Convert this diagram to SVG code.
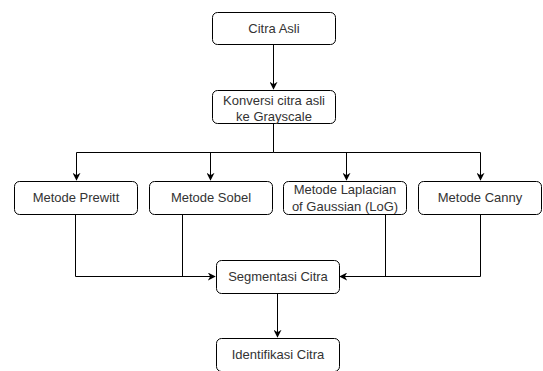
<svg xmlns="http://www.w3.org/2000/svg" width="543" height="371" viewBox="0 0 543 371">
<style>
.box{fill:#fff;stroke:#000;stroke-width:1}
.t{font-family:"Liberation Sans",Arial,sans-serif;font-size:13px;fill:#333;text-anchor:middle}
.c{fill:none;stroke:#000;stroke-width:1}
</style>
<defs>
<marker id="ah" viewBox="0 0 10 10" refX="9" refY="5" markerWidth="8" markerHeight="8" orient="auto" markerUnits="userSpaceOnUse">
<path d="M0,0 L10,5 L0,10 L3,5 Z" fill="#000"/>
</marker>
</defs>
<rect width="543" height="371" fill="#fff"/>
<g id="connectors">
<path class="c" d="M273.5,44.5 V89" marker-end="url(#ah)"/>
<path class="c" d="M273.5,123.5 V152.5 H76.5 V180" marker-end="url(#ah)"/>
<path class="c" d="M210.5,152.5 V180" marker-end="url(#ah)"/>
<path class="c" d="M273.5,152.5 H480.5 V180" marker-end="url(#ah)"/>
<path class="c" d="M346.5,152.5 V180" marker-end="url(#ah)"/>
<path class="c" d="M75.5,214.5 V276.5 H215" marker-end="url(#ah)"/>
<path class="c" d="M182.5,214.5 V276.5"/>
<path class="c" d="M480.5,214.5 V276.5 H340" marker-end="url(#ah)"/>
<path class="c" d="M385.5,214.5 V276.5"/>
<path class="c" d="M277.5,293.5 V337" marker-end="url(#ah)"/>
</g>
<g id="citra-asli"><rect class="box" x="212.5" y="12.5" width="123" height="32" rx="5"/><text class="t" x="274" y="33">Citra Asli</text></g>
<g id="konversi"><rect class="box" x="212.5" y="90.5" width="123" height="33" rx="5"/><text class="t" x="274" y="105">Konversi citra asli</text><text class="t" x="274" y="121">ke Grayscale</text></g>
<g id="prewitt"><rect class="box" x="14.5" y="181.5" width="123" height="33" rx="5"/><text class="t" x="76" y="202">Metode Prewitt</text></g>
<g id="sobel"><rect class="box" x="149.5" y="181.5" width="123" height="33" rx="5"/><text class="t" x="211" y="202">Metode Sobel</text></g>
<g id="log"><rect class="box" x="283.5" y="181.5" width="123" height="33" rx="5"/><text class="t" x="345" y="194">Metode Laplacian</text><text class="t" x="345" y="211">of Gaussian (LoG)</text></g>
<g id="canny"><rect class="box" x="418.5" y="181.5" width="123" height="33" rx="5"/><text class="t" x="480" y="202">Metode Canny</text></g>
<g id="segmentasi"><rect class="box" x="216.5" y="260.5" width="123" height="33" rx="5"/><text class="t" x="278" y="281">Segmentasi Citra</text></g>
<g id="identifikasi"><rect class="box" x="216.5" y="338.5" width="123" height="33" rx="5"/><text class="t" x="278" y="359">Identifikasi Citra</text></g>
</svg>
